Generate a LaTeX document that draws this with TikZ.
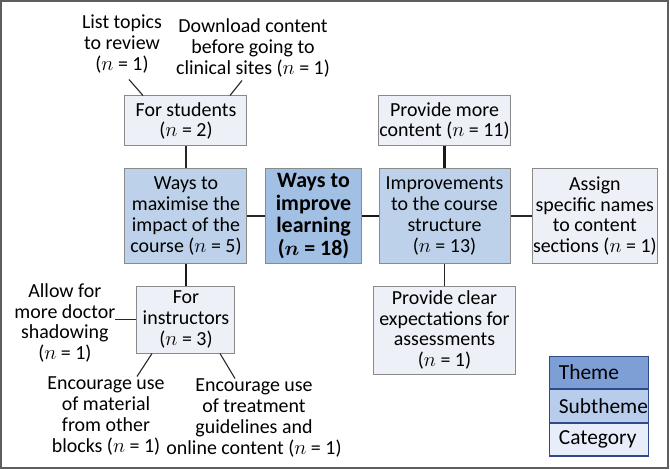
\documentclass[tikz,border=0pt]{standalone}
\usepackage{amsmath}
\usepackage{fontspec}
\setmainfont{Carlito}
\usetikzlibrary{positioning}
\definecolor{frame}{HTML}{5E5E5E}
\definecolor{boxline}{HTML}{8A8A8A}
\definecolor{themefill}{HTML}{A2C0E3}
\definecolor{subfill}{HTML}{BDD2EA}
\definecolor{catfill}{HTML}{EDF0F6}
\definecolor{keyline}{HTML}{2E4A8A}
\definecolor{keytheme}{HTML}{7E9FD6}
\definecolor{keysub}{HTML}{B8CDEC}
\definecolor{keycat}{HTML}{E8EEF9}

\begin{document}
\begin{tikzpicture}[
  node distance=20bp,
  every node/.style={font=\fontsize{20}{21}\selectfont},
  box/.style={draw=boxline, line width=1bp, inner sep=1bp, align=center},
  theme/.style={box, fill=themefill, minimum width=95bp, minimum height=94bp,
    font=\fontsize{22}{22.5}\selectfont\bfseries},
  subt/.style={box, fill=subfill, minimum height=94bp},
  cat/.style={box, fill=catfill},
  free/.style={align=center, inner sep=0pt},
  key/.style={draw=keyline, line width=1.2bp, minimum width=99bp, minimum height=32.5bp,
    text width=81bp, align=left, inner xsep=9bp, font=\fontsize{21.5}{22}\selectfont},
  ln/.style={draw=black!85, line width=1.1bp},
  thk/.style={draw=black!90, line width=2.8bp},
]
% theme and subthemes
\node[theme] (th) {Ways to\\ improve\\ learning\\ ($\boldsymbol{n}$ = 18)};
\node[subt, minimum width=122bp, left=18bp of th] (mx) {Ways to\\ maximise the\\ impact of the\\ course ($n$ = 5)};
\node[subt, minimum width=131bp, right=17bp of th] (imp) {Improvements\\ to the course\\ structure\\ ($n$ = 13)};

% categories
\node[cat, minimum width=122bp, minimum height=50bp, above=22bp of mx] (stu) {For students\\ ($n$ = 2)};
\node[cat, minimum width=98bp, minimum height=67bp, below=22bp of mx] (ins) {For\\ instructors\\ ($n$ = 3)};
\node[cat, minimum width=131bp, minimum height=50bp, above=22bp of imp] (pmc) {Provide more\\ content ($n$ = 11)};
\node[cat, minimum width=122bp, minimum height=94bp, right=21bp of imp] (asg) {Assign\\ specific names\\ to content\\ sections ($n$ = 1)};
\node[cat, minimum width=142bp, minimum height=88bp, below=22bp of imp] (pce) {Provide clear\\ expectations for\\ assessments\\ ($n$ = 1)};

% loose items
\node[free, above=22bp of stu, xshift=-64bp] (lt) {List topics\\ to review\\ ($n$ = 1)};
\node[free, above=18bp of stu, xshift=67bp] (dl) {Download content\\ before going to\\ clinical sites ($n$ = 1)};
\node[free, left=21bp of ins, yshift=-3.5bp] (alw) {Allow for\\ more doctor\\ shadowing\\ ($n$ = 1)};
\node[free, below=23bp of ins, xshift=-80bp] (enc1) {Encourage use\\ of material\\ from other\\ blocks ($n$ = 1)};
\node[free, below=25bp of ins, xshift=68bp] (enc2) {Encourage use\\ of treatment\\ guidelines and\\ online content ($n$ = 1)};

% key
\node[key, fill=keytheme, below=92bp of asg, xshift=4.5bp] (k1) {Theme};
\node[key, fill=keysub, below=0pt of k1] (k2) {Subtheme};
\node[key, fill=keycat, below=0pt of k2] (k3) {Category};

% connectors
\draw[ln] (mx) -- (th);
\draw[thk] (th) -- (imp);
\draw[ln] (stu) -- (mx);
\draw[thk] (mx) -- (ins);
\draw[thk] (pmc) -- (imp);
\draw[ln] (imp) -- (asg);
\draw[ln] (imp) -- (pce);
\draw[ln] ([xshift=7bp,yshift=-6bp]lt.south) -- ([xshift=-43bp]stu.north);
\draw[ln] ([xshift=-11bp,yshift=-3bp]dl.south) -- ([xshift=44bp]stu.north);
\draw[ln] (alw.east |- ins.west) -- (ins.west);
\draw[ln] ([xshift=-34bp]ins.south) -- ([xshift=31bp]enc1.north);
\draw[ln] ([xshift=34bp]ins.south) -- ([xshift=-19bp]enc2.north);

% frame
\draw[frame, line width=1.5bp] ([shift={(-312.5bp,215bp)}]th.center) rectangle ([shift={(354.5bp,-252bp)}]th.center);
\useasboundingbox ([shift={(-313.5bp,216bp)}]th.center) rectangle ([shift={(356.5bp,-254bp)}]th.center);
\end{tikzpicture}
\end{document}
